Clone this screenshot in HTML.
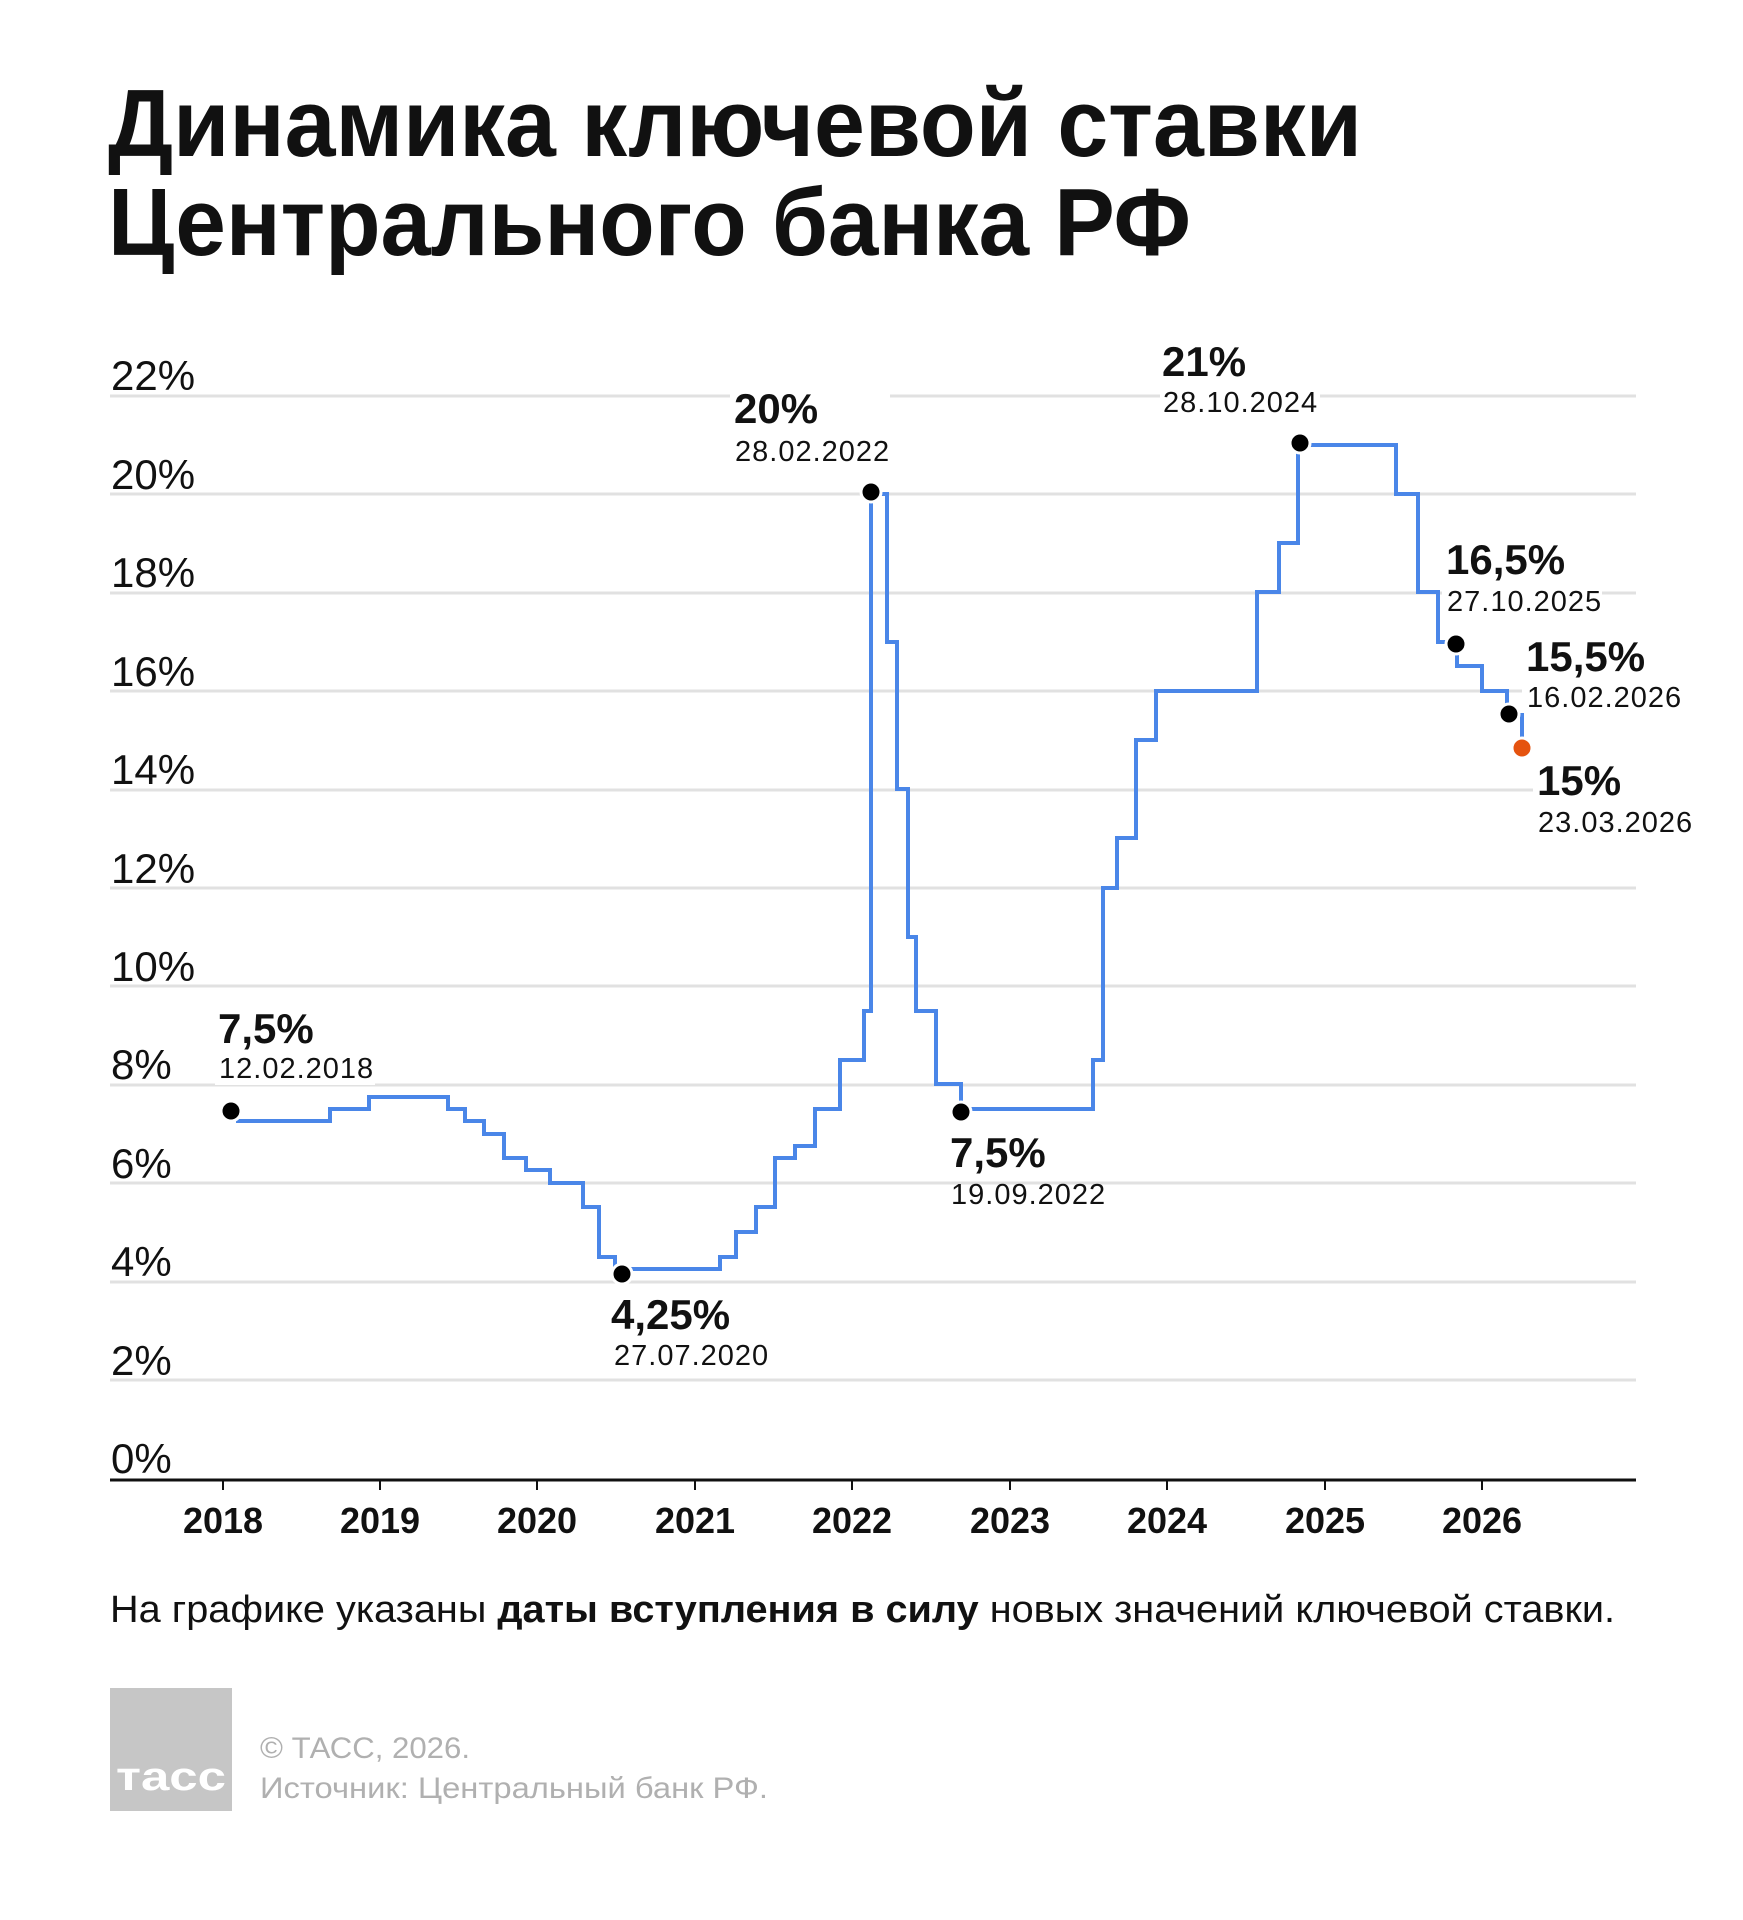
<!DOCTYPE html>
<html><head><meta charset="utf-8">
<style>
html,body{margin:0;padding:0;background:#fff;}
svg{display:block;}
text{font-family:"Liberation Sans",sans-serif;}
</style></head>
<body>
<svg width="1743" height="1920" viewBox="0 0 1743 1920" xmlns="http://www.w3.org/2000/svg">
<rect width="1743" height="1920" fill="#fff"/>
<text x="108" y="156" font-size="96" font-weight="bold" fill="#111" textLength="1254" lengthAdjust="spacingAndGlyphs">Динамика ключевой ставки</text>
<text x="108" y="255" font-size="96" font-weight="bold" fill="#111" textLength="1083" lengthAdjust="spacingAndGlyphs">Центрального банка РФ</text>

<g stroke="#e1e1e1" stroke-width="3">
<line x1="110" y1="396" x2="1636" y2="396"/>
<line x1="110" y1="494" x2="1636" y2="494"/>
<line x1="110" y1="593" x2="1636" y2="593"/>
<line x1="110" y1="691" x2="1636" y2="691"/>
<line x1="110" y1="790" x2="1636" y2="790"/>
<line x1="110" y1="888" x2="1636" y2="888"/>
<line x1="110" y1="986" x2="1636" y2="986"/>
<line x1="110" y1="1085" x2="1636" y2="1085"/>
<line x1="110" y1="1183" x2="1636" y2="1183"/>
<line x1="110" y1="1282" x2="1636" y2="1282"/>
<line x1="110" y1="1380" x2="1636" y2="1380"/>
</g>
<g fill="#fff">
<rect x="730" y="385" width="160" height="85"/>
<rect x="1160" y="340" width="160" height="80"/>
<rect x="1442" y="540" width="160" height="80"/>
<rect x="1522" y="635" width="160" height="80"/>
<rect x="1533" y="760" width="160" height="80"/>
<rect x="215" y="1005" width="160" height="80"/>
</g>
<g font-size="42" fill="#111">
<text x="111" y="390">22%</text>
<text x="111" y="489">20%</text>
<text x="111" y="587">18%</text>
<text x="111" y="686">16%</text>
<text x="111" y="784">14%</text>
<text x="111" y="883">12%</text>
<text x="111" y="981">10%</text>
<text x="111" y="1079">8%</text>
<text x="111" y="1178">6%</text>
<text x="111" y="1276">4%</text>
<text x="111" y="1375">2%</text>
<text x="111" y="1473">0%</text>
</g>
<line x1="110" y1="1480" x2="1636" y2="1480" stroke="#111" stroke-width="3"/>
<g stroke="#111" stroke-width="2">
<line x1="223" y1="1480" x2="223" y2="1490"/><line x1="380" y1="1480" x2="380" y2="1490"/>
<line x1="537" y1="1480" x2="537" y2="1490"/><line x1="695" y1="1480" x2="695" y2="1490"/>
<line x1="852" y1="1480" x2="852" y2="1490"/><line x1="1010" y1="1480" x2="1010" y2="1490"/>
<line x1="1167" y1="1480" x2="1167" y2="1490"/><line x1="1325" y1="1480" x2="1325" y2="1490"/>
<line x1="1482" y1="1480" x2="1482" y2="1490"/>
</g>
<g font-size="36" font-weight="bold" fill="#111" text-anchor="middle">
<text x="223" y="1533">2018</text><text x="380" y="1533">2019</text><text x="537" y="1533">2020</text>
<text x="695" y="1533">2021</text><text x="852" y="1533">2022</text><text x="1010" y="1533">2023</text>
<text x="1167" y="1533">2024</text><text x="1325" y="1533">2025</text><text x="1482" y="1533">2026</text>
</g>

<path d="M236 1121 H330 V1109 H369 V1097 H448 V1109 H465 V1121 H484 V1134 H504 V1158 H526 V1170 H550 V1183 H583 V1207 H599 V1257 H615 V1269 H720 V1257 H736 V1232 H756 V1207 H775 V1158 H795 V1146 H815 V1109 H840 V1060 H864 V1011 H871 V494 H887 V642 H897 V789 H908 V937 H916 V1011 H936 V1084 H961 V1109 H1093 V1060 H1103 V888 H1117 V838 H1136 V740 H1156 V691 H1257 V592 H1279 V543 H1298 V445 H1396 V494 H1418 V592 H1438 V642 H1457 V666 H1482 V691 H1507 V715 H1522 V740" fill="none" stroke="#4a86e8" stroke-width="4"/>

<g fill="#000" stroke="#fff" stroke-width="3">
<circle cx="231" cy="1111" r="10"/>
<circle cx="622" cy="1274" r="10"/>
<circle cx="871" cy="492" r="10"/>
<circle cx="961" cy="1112" r="10"/>
<circle cx="1300" cy="443" r="10"/>
<circle cx="1456" cy="644" r="10"/>
<circle cx="1509" cy="714" r="10"/>
</g>
<circle cx="1522" cy="748" r="10" fill="#e5530f" stroke="#fff" stroke-width="3"/>

<g fill="#111">
<g font-size="42" font-weight="bold">
<text x="218" y="1043">7,5%</text>
<text x="734" y="423">20%</text>
<text x="1162" y="376">21%</text>
<text x="1446" y="574">16,5%</text>
<text x="1526" y="671">15,5%</text>
<text x="1537" y="795">15%</text>
<text x="950" y="1167">7,5%</text>
<text x="611" y="1329">4,25%</text>
</g>
<g font-size="29" letter-spacing="1">
<text x="219" y="1078">12.02.2018</text>
<text x="735" y="461">28.02.2022</text>
<text x="1163" y="412">28.10.2024</text>
<text x="1447" y="611">27.10.2025</text>
<text x="1527" y="707">16.02.2026</text>
<text x="1538" y="832">23.03.2026</text>
<text x="951" y="1204">19.09.2022</text>
<text x="614" y="1365">27.07.2020</text>
</g>
</g>

<text x="110" y="1622" font-size="38" fill="#111" textLength="1505" lengthAdjust="spacingAndGlyphs">На графике указаны <tspan font-weight="bold">даты вступления в силу</tspan> новых значений ключевой ставки.</text>

<rect x="110" y="1688" width="122" height="123" fill="#c6c6c6"/>
<text x="116" y="1790" font-size="40" font-weight="bold" fill="#fff" textLength="110" lengthAdjust="spacingAndGlyphs">тасс</text>
<text x="260" y="1758" font-size="30" fill="#b0b0b0" textLength="210" lengthAdjust="spacingAndGlyphs">© ТАСС, 2026.</text>
<text x="260" y="1798" font-size="30" fill="#b0b0b0" textLength="508" lengthAdjust="spacingAndGlyphs">Источник: Центральный банк РФ.</text>
</svg>
</body></html>
